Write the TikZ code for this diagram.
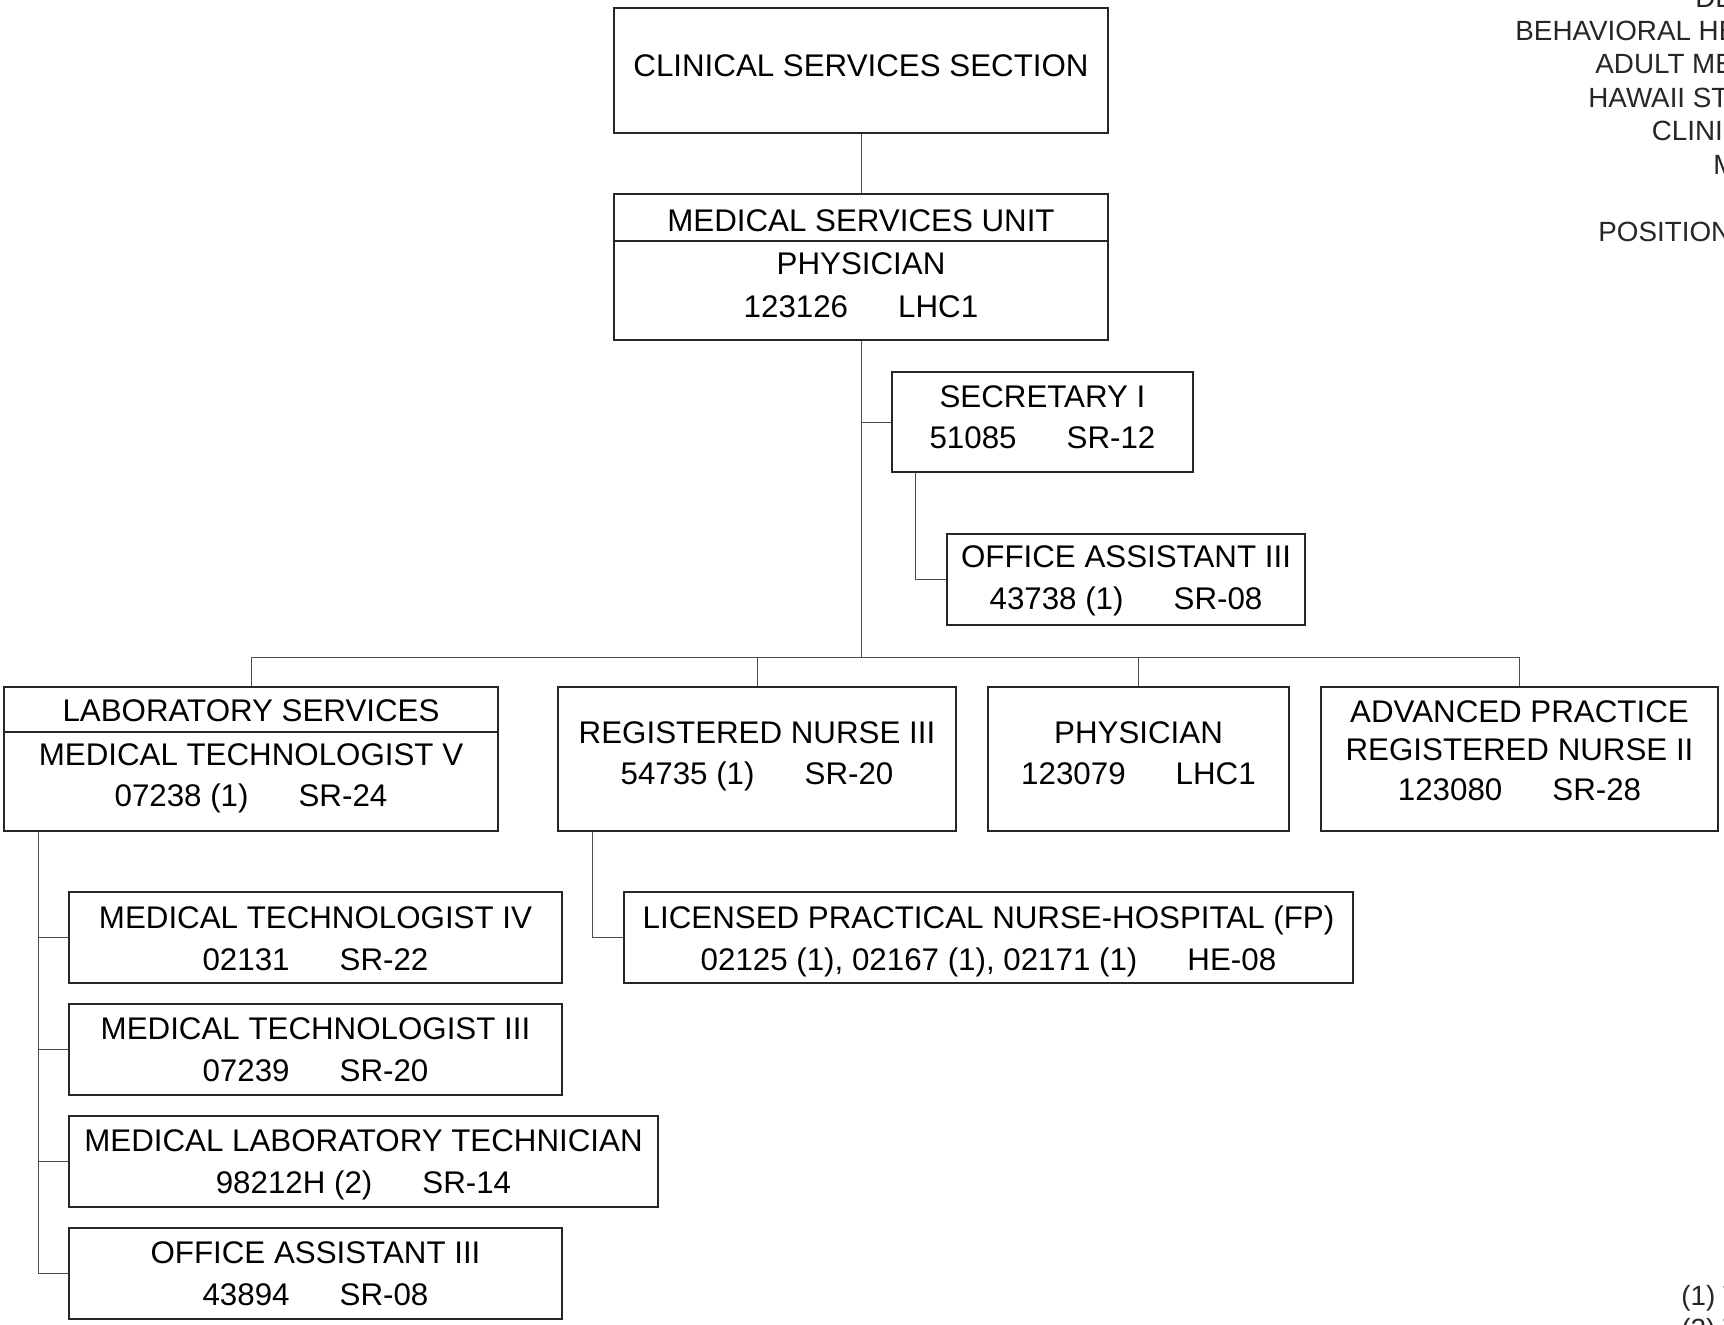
\documentclass[tikz,border=0pt]{standalone}
\usepackage{fontspec}
\setmainfont{Liberation Sans}
\newcommand{\gp}{\hspace{1.6em}}
\begin{document}
\begin{tikzpicture}[x=0.5pt,y=-0.5pt,
  box/.style={draw=black!85, line width=0.6pt, rectangle, inner sep=0pt},
  conn/.style={draw=black!70, line width=0.5pt},
  txt/.style={font=\fontsize{15.65}{18}\selectfont, anchor=base, inner sep=0pt, text=black},
  hdr/.style={font=\fontsize{13.9}{16}\selectfont, anchor=base west, inner sep=0pt, text=black!85}]
\useasboundingbox (0,0) rectangle (1724,1324);
\clip (0,0) rectangle (1724,1324);
% boxes
\node[box, minimum width=247pt, minimum height=62.5pt] (top) at (861,70.5) {};
\node[box, minimum width=247pt, minimum height=73pt] (msu) at (861,267) {};
\node[box, minimum width=150.5pt, minimum height=50pt] (sec) at (1042.5,422) {};
\node[box, minimum width=179pt, minimum height=45.5pt] (oa1) at (1126,579.5) {};
\node[box, minimum width=247pt, minimum height=72pt] (lab) at (251,759) {};
\node[box, minimum width=199pt, minimum height=72pt] (rn) at (757,759) {};
\node[box, minimum width=150.5pt, minimum height=72pt] (phys) at (1138.5,759) {};
\node[box, minimum width=198.5pt, minimum height=72pt] (aprn) at (1519.5,759) {};
\node[box, minimum width=246.5pt, minimum height=45.5pt] (mt4) at (315.5,937.5) {};
\node[box, minimum width=246.5pt, minimum height=45.5pt] (mt3) at (315.5,1049.5) {};
\node[box, minimum width=294.5pt, minimum height=45.5pt] (mlt) at (363.5,1161.5) {};
\node[box, minimum width=246.5pt, minimum height=45.5pt] (oa2) at (315.5,1273.5) {};
\node[box, minimum width=364.5pt, minimum height=45.5pt] (lpn) at (988.5,937.5) {};
% dividers
\coordinate (msud) at (861,241);
\coordinate (labd) at (251,732);
\draw[box] (msu.west |- msud) -- (msu.east |- msud);
\draw[box] (lab.west |- labd) -- (lab.east |- labd);
% texts
\node[txt] (ttop) at (861,76) {CLINICAL SERVICES SECTION};
\node[txt] (tmsu1) at (861,231) {MEDICAL SERVICES UNIT};
\node[txt] (tmsu2) at (861,274) {PHYSICIAN};
\node[txt] (tmsu3) at (861,317) {123126\gp LHC1};
\node[txt] (tsec1) at (1042.5,407) {SECRETARY I};
\node[txt] (tsec2) at (1042.5,448) {51085\gp SR-12};
\node[txt] (toa11) at (1126,567) {OFFICE ASSISTANT III};
\node[txt] (toa12) at (1126,609) {43738 (1)\gp SR-08};
\node[txt] (tlab1) at (251,721.5) {LABORATORY SERVICES};
\node[txt] (tlab2) at (251,765) {MEDICAL TECHNOLOGIST V};
\node[txt] (tlab3) at (251,806) {07238 (1)\gp SR-24};
\node[txt] (trn1) at (757,743.5) {REGISTERED NURSE III};
\node[txt] (trn2) at (757,784) {54735 (1)\gp SR-20};
\node[txt] (tph1) at (1138.5,743.5) {PHYSICIAN};
\node[txt] (tph2) at (1138.5,784) {123079\gp LHC1};
\node[txt] (tap1) at (1519.5,722.5) {ADVANCED PRACTICE};
\node[txt] (tap2) at (1519.5,760) {REGISTERED NURSE II};
\node[txt] (tap3) at (1519.5,800) {123080\gp SR-28};
\node[txt] (tmt41) at (315.5,928) {MEDICAL TECHNOLOGIST IV};
\node[txt] (tmt42) at (315.5,970) {02131\gp SR-22};
\node[txt] (tmt31) at (315.5,1039.5) {MEDICAL TECHNOLOGIST III};
\node[txt] (tmt32) at (315.5,1081) {07239\gp SR-20};
\node[txt] (tmlt1) at (363.5,1151.5) {MEDICAL LABORATORY TECHNICIAN};
\node[txt] (tmlt2) at (363.5,1193) {98212H (2)\gp SR-14};
\node[txt] (toa21) at (315.5,1263.5) {OFFICE ASSISTANT III};
\node[txt] (toa22) at (315.5,1305) {43894\gp SR-08};
\node[txt] (tlpn1) at (988.5,928) {LICENSED PRACTICAL NURSE-HOSPITAL (FP)};
\node[txt] (tlpn2) at (988.5,970) {02125 (1), 02167 (1), 02171 (1)\gp HE-08};
% connectors
\coordinate (bus) at (861,657);
\draw[conn] (top.south) -- (msu.north);
\draw[conn] (msu.south) -- (bus);
\draw[conn] (sec.west) -- (sec.west -| bus);
\draw[conn] ([xshift=12pt]sec.south west) |- (oa1.west);
\draw[conn] (lab.north) |- (bus) -| (aprn.north);
\draw[conn] (rn.north) -- (rn.north |- bus);
\draw[conn] (phys.north) -- (phys.north |- bus);
\coordinate (labx) at ([xshift=17.5pt]lab.south west);
\draw[conn] (labx) |- (oa2.west);
\draw[conn] (mt4.west) -- (mt4.west -| labx);
\draw[conn] (mt3.west) -- (mt3.west -| labx);
\draw[conn] (mlt.west) -- (mlt.west -| labx);
\draw[conn] ([xshift=17.5pt]rn.south west) |- (lpn.west);
% header fragments (cut by the page edge)
\node[hdr] (h1) at (1695,7) {DE};
\node[hdr] (h2) at (1515,40) {BEHAVIORAL HE};
\node[hdr] (h3) at (1595,73.5) {ADULT ME};
\node[hdr] (h4) at (1588,107) {HAWAII ST};
\node[hdr] (h5) at (1651.5,140.5) {CLINIC};
\node[hdr] (h6) at (1713,174) {M};
\node[hdr] (h7) at (1598,241) {POSITION};
% footnote fragments
\node[hdr] (f1) at (1681,1305) {(1) T};
\node[hdr] (f2) at (1681,1338.5) {(2) T};
\end{tikzpicture}
\end{document}
